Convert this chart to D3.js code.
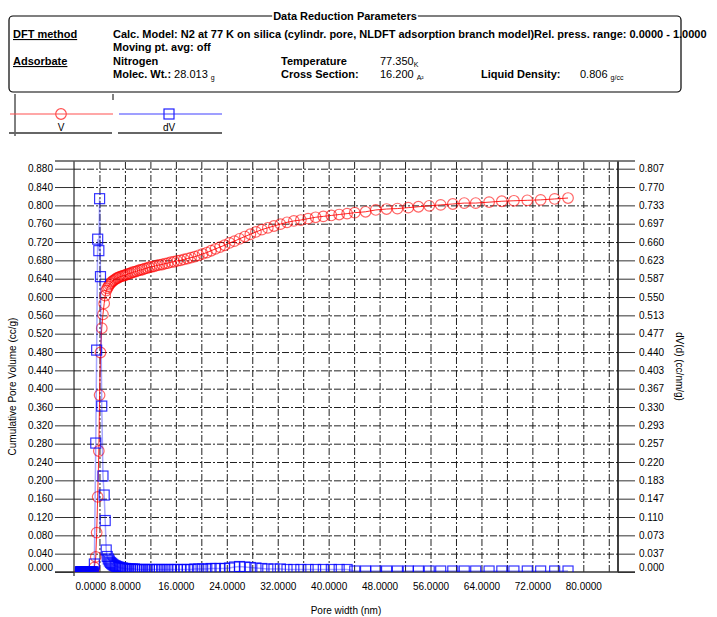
<!DOCTYPE html>
<html><head><meta charset="utf-8">
<script src="https://cdn.jsdelivr.net/npm/d3@7"></script>
<style>
body{margin:0;background:#fff;}
svg{display:block;font-family:"Liberation Sans",Arial,sans-serif;}
</style>
</head><body>
<svg id="chart" width="717" height="617"></svg>
<script>
// ---------------- DATA ----------------
const poreWidth = [
  1.00, 1.03, 1.06, 1.10, 1.13, 1.17, 1.20, 1.24, 1.28, 1.32,
  1.36, 1.40, 1.45, 1.49, 1.54, 1.59, 1.64, 1.69, 1.74, 1.80,
  1.86, 1.91, 1.97, 2.04, 2.10, 2.17, 2.24, 2.31, 2.38, 2.46,
  2.53, 2.61, 2.70, 2.78, 2.87, 2.96, 3.06,
  3.20, 3.42, 3.56, 3.72, 3.90, 4.02, 4.16, 4.36, 4.55, 4.74, 4.90,
  5.06, 5.22, 5.39, 5.56, 5.74, 5.92, 6.11, 6.31, 6.51, 6.72,
  6.93, 7.15, 7.38, 7.62, 7.86, 8.11, 8.37, 8.64, 8.92, 9.20,
  9.50, 9.80, 10.11, 10.44, 10.77, 11.11, 11.47, 11.83, 12.21, 12.60,
  13.01, 13.42, 13.85, 14.30, 14.75, 15.22, 15.71, 16.21, 16.73, 17.27,
  17.82, 18.39, 18.98, 19.59, 20.21, 20.86, 21.53, 22.22, 22.93, 23.66,
  24.42, 25.20, 26.00, 26.84, 27.70, 28.58, 29.50, 30.44, 31.41, 32.42,
  33.46, 34.53, 35.63, 36.77, 37.95, 39.16, 40.42, 41.65, 42.90,
  44.10, 45.80, 47.40, 49.10, 50.80, 52.50, 54.10, 55.80, 57.60, 59.50,
  61.30, 63.10, 65.20, 67.20, 69.10, 71.20, 73.30, 75.50, 77.60
];
// Cumulative pore volume (cc/g), left axis
const cumVolume = [
  0, 0, 0, 0, 0, 0, 0, 0, 0, 0,
  0, 0, 0, 0, 0, 0, 0, 0, 0, 0,
  0, 0, 0, 0, 0, 0, 0, 0, 0, 0,
  0, 0, 0, 0, 0, 0, 0,
  0.010, 0.033, 0.086, 0.164, 0.264, 0.386, 0.479, 0.532, 0.562, 0.586, 0.603,
  0.614, 0.619, 0.623, 0.627, 0.630, 0.633, 0.635, 0.637, 0.639, 0.641,
  0.642, 0.644, 0.645, 0.646, 0.647, 0.648, 0.650, 0.651, 0.652, 0.654,
  0.655, 0.656, 0.658, 0.659, 0.660, 0.662, 0.663, 0.665, 0.666, 0.667,
  0.669, 0.670, 0.671, 0.673, 0.674, 0.676, 0.677, 0.679, 0.680, 0.682,
  0.684, 0.686, 0.688, 0.691, 0.694, 0.697, 0.701, 0.705, 0.709, 0.713,
  0.718, 0.722, 0.727, 0.732, 0.737, 0.742, 0.747, 0.751, 0.755, 0.759,
  0.763, 0.766, 0.768, 0.771, 0.774, 0.776, 0.778, 0.780, 0.782,
  0.784, 0.786, 0.790, 0.792, 0.793, 0.795, 0.797, 0.799, 0.801, 0.803,
  0.805, 0.805, 0.807, 0.809, 0.810, 0.811, 0.812, 0.814, 0.816
];
// dV(d) (cc/nm/g), right axis
const dVd = [
  0, 0, 0, 0, 0, 0, 0, 0, 0, 0,
  0, 0, 0, 0, 0, 0, 0, 0, 0, 0,
  0, 0, 0, 0, 0, 0, 0, 0, 0, 0,
  0, 0, 0, 0, 0, 0, 0,
  0.016, 0.258, 0.444, 0.666, 0.643, 0.747, 0.591, 0.332, 0.192, 0.154, 0.103,
  0.044, 0.031, 0.026, 0.022, 0.019, 0.017, 0.015, 0.013, 0.012, 0.011,
  0.010, 0.009, 0.008, 0.008, 0.007, 0.007, 0.006, 0.006, 0.006, 0.006,
  0.006, 0.005, 0.005, 0.005, 0.005, 0.005, 0.005, 0.005, 0.005, 0.005,
  0.005, 0.005, 0.005, 0.005, 0.005, 0.005, 0.005, 0.005, 0.005, 0.005,
  0.005, 0.005, 0.006, 0.006, 0.006, 0.006, 0.007, 0.007, 0.007, 0.007,
  0.008, 0.010, 0.011, 0.010, 0.009, 0.008, 0.007, 0.006, 0.006, 0.006,
  0.005, 0.005, 0.005, 0.005, 0.005, 0.005, 0.005, 0.005, 0.005,
  0.002, 0.002, 0.002, 0.002, 0.002, 0.002, 0.002, 0.002, 0.002, 0.002,
  0.002, 0.002, 0.002, 0.002, 0.002, 0.002, 0.002, 0.002, 0.002
];

const xTickValues = [0, 8, 16, 24, 32, 40, 48, 56, 64, 72, 80];
const xGridValues = [4, 8, 12, 16, 20, 24, 28, 32, 36, 40, 44, 48, 52, 56, 60, 64, 68, 72, 76, 80, 84];
const yLeftTicks = [0.000, 0.040, 0.080, 0.120, 0.160, 0.200, 0.240, 0.280, 0.320, 0.360, 0.400, 0.440,
                    0.480, 0.520, 0.560, 0.600, 0.640, 0.680, 0.720, 0.760, 0.800, 0.840, 0.880];
const yRightLabels = ["0.000", "0.037", "0.073", "0.110", "0.147", "0.183", "0.220", "0.257", "0.293", "0.330", "0.367", "0.403",
                      "0.440", "0.477", "0.513", "0.550", "0.587", "0.623", "0.660", "0.697", "0.733", "0.770", "0.807"];
const xDomainMax = 85.45;
const yLeftMax = 0.8968;
const yRightTop = 0.807;   // right-axis value aligned with left 0.880

// ---------------- LAYOUT ----------------
const svg = d3.select("#chart");
const L = 74, R = 618, T = 161, B = 572;

const x = d3.scaleLinear().domain([0, xDomainMax]).range([L, R]);
const yL = d3.scaleLinear().domain([0, yLeftMax]).range([B, T]);
const yR = d3.scaleLinear().domain([0, yLeftMax * yRightTop / 0.880]).range([B, T]);

// ---------------- HEADER ----------------
const hdr = svg.append("g").attr("font-size", "11px").attr("fill", "#000");
const bx0 = 9, bx1 = 681, by0 = 16, by1 = 92, rr = 4;
hdr.append("rect").attr("x", bx0).attr("y", by0).attr("width", bx1 - bx0).attr("height", by1 - by0)
  .attr("rx", rr).attr("fill", "none").attr("stroke", "#000").attr("stroke-width", 1.2);
const title = hdr.append("text").attr("x", 345).attr("y", 20).attr("text-anchor", "middle")
  .attr("font-weight", "bold").text("Data Reduction Parameters");
const tb = title.node().getBBox();
hdr.insert("rect", "text").attr("x", tb.x - 1).attr("y", tb.y).attr("width", tb.width + 2).attr("height", tb.height)
  .attr("fill", "#fff");

function txt(xp, yp, s, opts = {}) {
  const t = hdr.append("text").attr("x", xp).attr("y", yp).text(s);
  if (opts.bold) t.attr("font-weight", "bold");
  if (opts.underline) t.attr("text-decoration", "underline");
  return t;
}
function sub(t, s) {
  t.append("tspan").attr("font-size", "7px").attr("font-weight", "normal").attr("dy", 2).text(s);
}
txt(13, 38, "DFT method", {bold: true, underline: true});
txt(13, 65, "Adsorbate", {bold: true, underline: true});
txt(113, 38, "Calc. Model: N2 at 77 K on silica (cylindr. pore, NLDFT adsorption branch model)Rel. press. range: 0.0000 - 1.0000", {bold: true});
txt(113, 51, "Moving pt. avg: off", {bold: true});
txt(113, 65, "Nitrogen", {bold: true});
const mw = txt(113, 78, "Molec. Wt.:", {bold: true});
mw.append("tspan").attr("font-weight", "normal").text(" 28.013 ");
sub(mw, "g");
txt(281, 65, "Temperature", {bold: true});
const tv = txt(380, 65, "77.350");
sub(tv, "K");
txt(281, 78, "Cross Section:", {bold: true});
const cs = txt(380, 78, "16.200 ");
sub(cs, "A²");
txt(481, 78, "Liquid Density:", {bold: true});
const ld = txt(580, 78, "0.806 ");
sub(ld, "g/cc");

// ---------------- LEGEND ----------------
const lg = svg.append("g");
lg.append("line").attr("x1", 15).attr("x2", 15).attr("y1", 94).attr("y2", 136).attr("stroke", "#000");
lg.append("line").attr("x1", 113).attr("x2", 113).attr("y1", 94).attr("y2", 100).attr("stroke", "#000");
lg.append("line").attr("x1", 9).attr("x2", 112).attr("y1", 133).attr("y2", 133).attr("stroke", "#666").attr("stroke-width", 2);
lg.append("line").attr("x1", 118).attr("x2", 222).attr("y1", 133).attr("y2", 133).attr("stroke", "#666").attr("stroke-width", 2);
lg.append("line").attr("x1", 10).attr("x2", 113).attr("y1", 114).attr("y2", 114).attr("stroke", "#ff5050").attr("stroke-width", 1.2);
lg.append("circle").attr("cx", 61).attr("cy", 114).attr("r", 5.3).attr("fill", "none").attr("stroke", "#ff5050").attr("stroke-width", 1.2);
lg.append("text").attr("x", 61).attr("y", 131).attr("text-anchor", "middle").attr("font-size", "10px").text("V");
lg.append("line").attr("x1", 119).attr("x2", 222).attr("y1", 114).attr("y2", 114).attr("stroke", "#4040ff").attr("stroke-width", 1.2);
lg.append("rect").attr("x", 164).attr("y", 109).attr("width", 10).attr("height", 10).attr("fill", "none").attr("stroke", "#2020ff").attr("stroke-width", 1.2);
lg.append("text").attr("x", 169).attr("y", 131).attr("text-anchor", "middle").attr("font-size", "10px").text("dV");

// ---------------- GRID ----------------
const grid = svg.append("g");
grid.append("g").attr("transform", `translate(${L},0)`)
  .call(d3.axisLeft(yL).tickValues(yLeftTicks.filter(v => v > 0)).tickSize(-(R - L)).tickFormat(""))
  .call(g => g.select(".domain").remove())
  .call(g => g.selectAll("line").attr("stroke", "#222").attr("stroke-dasharray", "7,2,2,2").attr("stroke-width", 1));
grid.append("g").attr("transform", `translate(0,${B})`)
  .call(d3.axisBottom(x).tickValues(xGridValues).tickSize(-(B - T)).tickFormat(""))
  .call(g => g.select(".domain").remove())
  .call(g => g.selectAll("line").attr("stroke", "#222").attr("stroke-dasharray", "7,2,2,2").attr("stroke-width", 1));

// ---------------- AXES ----------------
const axL = svg.append("g").attr("transform", `translate(${L},0)`)
  .call(d3.axisLeft(yL).tickValues(yLeftTicks).tickSize(19).tickPadding(2).tickFormat(d3.format(".3f")));
axL.select(".domain").attr("d", `M0,${T}V${B + 4}`).attr("stroke", "#000");
axL.selectAll(".tick line").attr("stroke", "#333");
axL.selectAll(".tick text").attr("font-size", "10px").attr("fill", "#000")
  .attr("font-family", "Liberation Sans, Arial, sans-serif")
  .attr("dy", d => d === 0 ? "-0.2em" : "0.32em");

const axR = svg.append("g").attr("transform", `translate(${R},0)`)
  .call(d3.axisRight(yR).tickValues(yLeftTicks.map(v => v * yRightTop / 0.880)).tickSize(17).tickPadding(4)
    .tickFormat((d, i) => yRightLabels[i]));
axR.select(".domain").attr("d", `M0,${T}V${B}`).attr("stroke", "#000").attr("stroke-width", 1.5);
axR.selectAll(".tick line").attr("stroke", "#333");
axR.selectAll(".tick text").attr("font-size", "10px").attr("fill", "#000")
  .attr("font-family", "Liberation Sans, Arial, sans-serif")
  .attr("dy", (d, i) => i === 0 ? "-0.2em" : "0.32em");

const axB = svg.append("g").attr("transform", `translate(0,${B})`)
  .call(d3.axisBottom(x).tickValues(xTickValues).tickSize(0).tickPadding(11).tickFormat(d3.format(".4f")));
axB.select(".domain").remove();
axB.selectAll(".tick text").attr("font-size", "10px").attr("fill", "#000")
  .attr("font-family", "Liberation Sans, Arial, sans-serif")
  .attr("text-anchor", d => d === 0 ? "start" : "middle")
  .attr("dx", d => d === 0 ? 1 : 0);

// frame lines top and bottom
svg.append("line").attr("x1", 55).attr("x2", 635).attr("y1", T).attr("y2", T).attr("stroke", "#555").attr("stroke-width", 1.3);
svg.append("line").attr("x1", 55).attr("x2", 635).attr("y1", B).attr("y2", B).attr("stroke", "#333").attr("stroke-width", 1.5);

// axis titles
svg.append("text").attr("transform", `translate(16,${(T + B) / 2 + 20}) rotate(-90)`).attr("text-anchor", "middle")
  .attr("font-size", "10px").text("Cumulative Pore Volume (cc/g)");
svg.append("text").attr("transform", `translate(676,${(T + B) / 2}) rotate(90)`).attr("text-anchor", "middle")
  .attr("font-size", "10px").text("dV(d) (cc/nm/g)");
svg.append("text").attr("x", 346).attr("y", 614).attr("text-anchor", "middle")
  .attr("font-size", "10px").text("Pore width (nm)");

// ---------------- SERIES ----------------
svg.append("clipPath").attr("id", "plotclip").append("rect")
  .attr("x", L).attr("y", T).attr("width", R - L).attr("height", B - T);
const plot = svg.append("g").attr("clip-path", "url(#plotclip)");

const pts = poreWidth.map((w, i) => ({w, v: cumVolume[i], d: dVd[i]}));

plot.append("path").datum(pts)
  .attr("d", d3.line().x(p => x(p.w)).y(p => yL(p.v)))
  .attr("fill", "none").attr("stroke", "#ff0000").attr("stroke-width", 1).attr("stroke-opacity", 0.85);
plot.selectAll("circle.v").data(pts).join("circle").attr("class", "v")
  .attr("cx", p => x(p.w)).attr("cy", p => yL(p.v)).attr("r", 5.3)
  .attr("fill", "none").attr("stroke", "#ff0000").attr("stroke-opacity", 0.6).attr("stroke-width", 1.2);

plot.append("path").datum(pts)
  .attr("d", d3.line().x(p => x(p.w)).y(p => yR(p.d)))
  .attr("fill", "none").attr("stroke", "#0000ff").attr("stroke-width", 1.5).attr("stroke-opacity", 0.35);
plot.selectAll("rect.d").data(pts).join("rect").attr("class", "d")
  .attr("x", p => x(p.w) - 5).attr("y", p => yR(p.d) - 5).attr("width", 10).attr("height", 10)
  .attr("fill", "none").attr("stroke", "#0000ff").attr("stroke-opacity", 0.8).attr("stroke-width", 1.2);
</script>
</body></html>
